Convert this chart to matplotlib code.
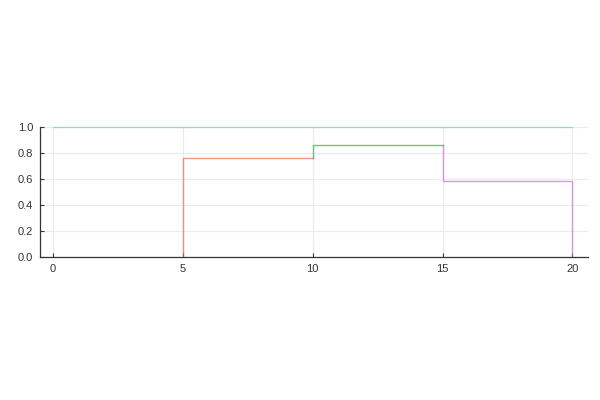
import matplotlib.pyplot as plt

# step segments: x points and y points for each series
blue_x = [0, 20]
blue_y = [1.0, 1.0]
orange_x = [5, 5, 10]
orange_y = [0.0, 0.76, 0.76]
green_x = [10, 10, 15]
green_y = [0.76, 0.862, 0.862]
purple_x = [15, 15, 20, 20]
purple_y = [0.862, 0.585, 0.585, 0.0]

xticks = [0, 5, 10, 15, 20]
yticks = [0.0, 0.2, 0.4, 0.6, 0.8, 1.0]

plt.rcParams['font.family'] = ['Liberation Sans', 'DejaVu Sans']

fig = plt.figure(figsize=(6, 4), dpi=100)
ax = fig.add_axes([40/600, 143/400, 548/600, 130/400])

ax.plot(blue_x, blue_y, color='#009AFA', alpha=0.35, linewidth=1.0, clip_on=False)
ax.plot(orange_x, orange_y, color='#E36F47', alpha=0.7, linewidth=1.0)
ax.plot(green_x, green_y, color='#3EA44E', alpha=0.7, linewidth=1.0)
ax.plot(purple_x, purple_y, color='#C371D2', alpha=0.7, linewidth=1.0)

ax.set_xlim(-0.5, 20.6)
ax.set_ylim(0, 1)
ax.set_xticks(xticks)
ax.set_yticks(yticks)
ax.set_xticklabels([str(t) for t in xticks])
ax.set_yticklabels(['%.1f' % t for t in yticks])

ax.grid(True, color='#ebebeb', linewidth=0.8)
ax.set_axisbelow(True)
for s in ['top', 'right']:
    ax.spines[s].set_visible(False)
for s in ['left', 'bottom']:
    ax.spines[s].set_color('#333333')
    ax.spines[s].set_linewidth(0.9)
ax.tick_params(direction='in', length=3, width=0.8, color='#333333',
               labelsize=8, labelcolor='#333333', pad=5)

fig.savefig('out.png', dpi=100)
